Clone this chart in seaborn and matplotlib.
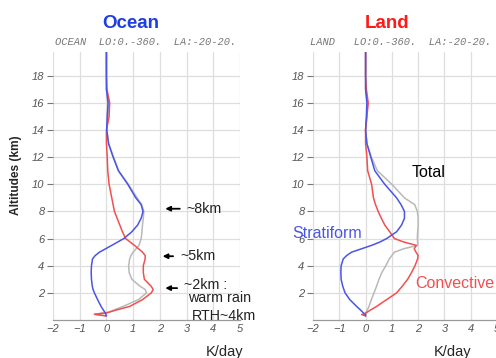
import matplotlib
matplotlib.use("Agg")
import matplotlib.pyplot as plt
import seaborn as sns
import pandas as pd

# ---------------- data ----------------
ocean_alt = [0.3, 0.42, 0.55, 0.75, 1.0, 1.5, 2.0, 2.25, 2.5, 3.0, 3.5, 4.0, 4.5, 4.75,
             5.0, 5.5, 6.0, 6.5, 7.0, 7.5, 8.0, 8.5, 9.0, 10.0, 11.0, 12.0, 13.0, 14.0,
             15.0, 16.0, 17.0, 18.0, 19.75]
ocean_strat = [0.0, -0.02, -0.05, -0.12, -0.2, -0.33, -0.45, -0.5, -0.53, -0.56, -0.57, -0.56,
               -0.52, -0.42, -0.26, 0.2, 0.65, 0.95, 1.17, 1.3, 1.37, 1.3, 1.1, 0.8, 0.45,
               0.25, 0.08, 0.01, 0.03, 0.06, 0.0, 0.0, 0.0]
ocean_conv = [0.0, -0.45, 0.05, 0.4, 0.87, 1.35, 1.68, 1.75, 1.67, 1.42, 1.38, 1.38, 1.45,
              1.45, 1.35, 1.05, 0.72, 0.6, 0.5, 0.4, 0.3, 0.25, 0.2, 0.1, 0.05, 0.03, 0.0,
              0.0, 0.1, 0.12, 0.02, 0.0, 0.0]
ocean_total = [0.0, -0.45, 0.05, 0.3, 0.62, 1.2, 1.5, 1.45, 1.25, 0.95, 0.85, 0.83, 0.87,
               0.92, 1.0, 1.22, 1.3, 1.33, 1.35, 1.38, 1.4, 1.32, 1.15, 0.82, 0.45, 0.27,
               0.08, 0.02, 0.05, 0.08, 0.0, 0.0, 0.0]

land_alt = [0.3, 0.4, 0.5, 0.75, 1.0, 1.5, 2.0, 2.5, 3.0, 3.5, 4.0, 4.5, 4.75, 5.0, 5.25,
            5.5, 5.75, 6.0, 6.5, 7.0, 7.5, 8.0, 8.5, 9.0, 10.0, 11.0, 12.0, 13.0, 14.0,
            15.0, 16.0, 17.0, 18.0, 19.75]
land_strat = [0.0, 0.0, -0.07, -0.2, -0.34, -0.6, -0.78, -0.87, -0.93, -0.94, -0.93, -0.85,
              -0.72, -0.53, -0.15, 0.23, 0.55, 0.8, 1.18, 1.37, 1.48, 1.48, 1.35, 1.18, 0.73,
              0.35, 0.2, 0.05, 0.0, 0.03, 0.05, 0.0, 0.0, 0.0]
land_conv = [0.0, -0.15, 0.0, 0.2, 0.42, 0.8, 1.18, 1.4, 1.6, 1.75, 1.88, 1.98, 2.0, 1.92,
             1.85, 1.93, 1.45, 1.1, 0.92, 0.73, 0.6, 0.48, 0.38, 0.3, 0.23, 0.08, 0.05, 0.0,
             0.0, 0.05, 0.1, 0.03, 0.0, 0.0]
land_total = [0.0, 0.0, 0.0, 0.07, 0.13, 0.22, 0.32, 0.42, 0.51, 0.62, 0.77, 0.9, 1.0, 1.1,
              1.45, 1.98, 1.98, 1.97, 1.98, 2.0, 2.0, 1.97, 1.87, 1.48, 1.0, 0.45, 0.22, 0.05,
              0.0, 0.05, 0.08, 0.0, 0.0, 0.0]

x_ticks = [-2, -1, 0, 1, 2, 3, 4, 5]
y_ticks = [2, 4, 6, 8, 10, 12, 14, 16, 18]
panel_titles = ["Ocean", "Land"]
subtitles = ["OCEAN  LO:0.-360.  LA:-20-20.", "LAND   LO:0.-360.  LA:-20-20."]

C_STRAT = "#4a55e6"
C_CONV = "#f05050"
C_TOTAL = "#b9b9b9"

# ---------------- figure ----------------
sns.set_style("white")
plt.rcParams["font.family"] = ["Liberation Sans", "DejaVu Sans"]

fig = plt.figure(figsize=(4.96, 3.58), dpi=100)
ax_o = fig.add_axes([53 / 496, 1 - 320 / 358, 187 / 496, 268 / 358])
ax_l = fig.add_axes([313 / 496, 1 - 320 / 358, 184 / 496, 268 / 358])


def draw(ax, alt, strat, conv, total):
    for vals, col in [(total, C_TOTAL), (conv, C_CONV), (strat, C_STRAT)]:
        df = pd.DataFrame({"x": vals, "alt": alt})
        sns.lineplot(data=df, x="x", y="alt", sort=False, estimator=None,
                     color=col, lw=1.1, ax=ax)
    ax.set_xlim(-2, 5)
    ax.set_ylim(0, 19.75)
    ax.set_xticks(x_ticks)
    ax.set_yticks(y_ticks)
    ax.grid(True, color="#dedede", lw=0.9)
    ax.set_axisbelow(True)
    for s in ["top", "right", "left"]:
        ax.spines[s].set_visible(False)
    ax.spines["bottom"].set_color("#9a9a9a")
    ax.spines["bottom"].set_linewidth(0.9)
    ax.tick_params(axis="y", left=True, length=4, width=0.8, color="#777777",
                   labelsize=8, labelcolor="#555555", pad=2)
    ax.tick_params(axis="x", bottom=False, length=0, labelsize=8,
                   labelcolor="#555555", pad=3)
    ax.set_xticklabels([f"{t}".replace("-", "\u2212") for t in x_ticks], fontstyle="italic")
    ax.set_yticklabels([str(t) for t in y_ticks], fontstyle="italic")
    ax.set_xlabel("")
    ax.set_ylabel("")


draw(ax_o, ocean_alt, ocean_strat, ocean_conv, ocean_total)
draw(ax_l, land_alt, land_strat, land_conv, land_total)

# titles
fig.text(131 / 496, 1 - 23 / 358, panel_titles[0], color="#1f3de0", fontsize=13.5,
         fontweight="bold", ha="center", va="center")
fig.text(387 / 496, 1 - 23 / 358, panel_titles[1], color="#ff1a1a", fontsize=13.5,
         fontweight="bold", ha="center", va="center")
fig.text(146 / 496, 1 - 42 / 358, subtitles[0], color="#777777", fontsize=7.5,
         family="Liberation Mono", fontstyle="italic", ha="center", va="center")
fig.text(401 / 496, 1 - 42 / 358, subtitles[1], color="#777777", fontsize=7.5,
         family="Liberation Mono", fontstyle="italic", ha="center", va="center")

# axis labels
fig.text(16 / 496, 1 - 175 / 358, "Altitudes (km)", rotation=90, fontsize=8.6,
         fontweight="bold", ha="center", va="center")
fig.text(225 / 496, 1 - 352 / 358, "K/day", fontsize=10.5, ha="center", va="center")
fig.text(453 / 496, 1 - 352 / 358, "K/day", fontsize=10.5, ha="center", va="center")

# ocean annotations
arrow_kw = dict(arrowstyle="-|>", color="black", lw=1.3, mutation_scale=7)
for y_alt, x_start, x_end, label in [(8.2, 2.85, 2.1, "~8km"), (4.7, 2.6, 2.0, "~5km"),
                                      (2.35, 2.75, 2.1, "~2km :")]:
    ax_o.annotate("", xy=(x_end, y_alt), xytext=(x_start, y_alt), arrowprops=arrow_kw,
                  annotation_clip=False)
    ax_o.text(x_start + 0.15, y_alt + (0.2 if label.startswith("~2") else 0), label,
              fontsize=10.3, va="center", ha="left", color="#222222", clip_on=False)
ax_o.text(3.05, 1.6, "warm rain", fontsize=10.3, va="center", ha="left", color="#222222",
          clip_on=False)
ax_o.text(3.2, 0.3, "RTH~4km", fontsize=10.3, va="center", ha="left", color="#222222",
          clip_on=False)

# land annotations
ax_l.text(2.4, 10.85, "Total", fontsize=11.5, va="center", ha="center", color="black")
ax_l.text(-1.45, 6.4, "Stratiform", fontsize=11.5, va="center", ha="center",
          color=C_STRAT, clip_on=False)
ax_l.text(3.4, 2.7, "Convective", fontsize=11.5, va="center", ha="center",
          color=C_CONV, clip_on=False)

fig.savefig("out.png", dpi=100)
